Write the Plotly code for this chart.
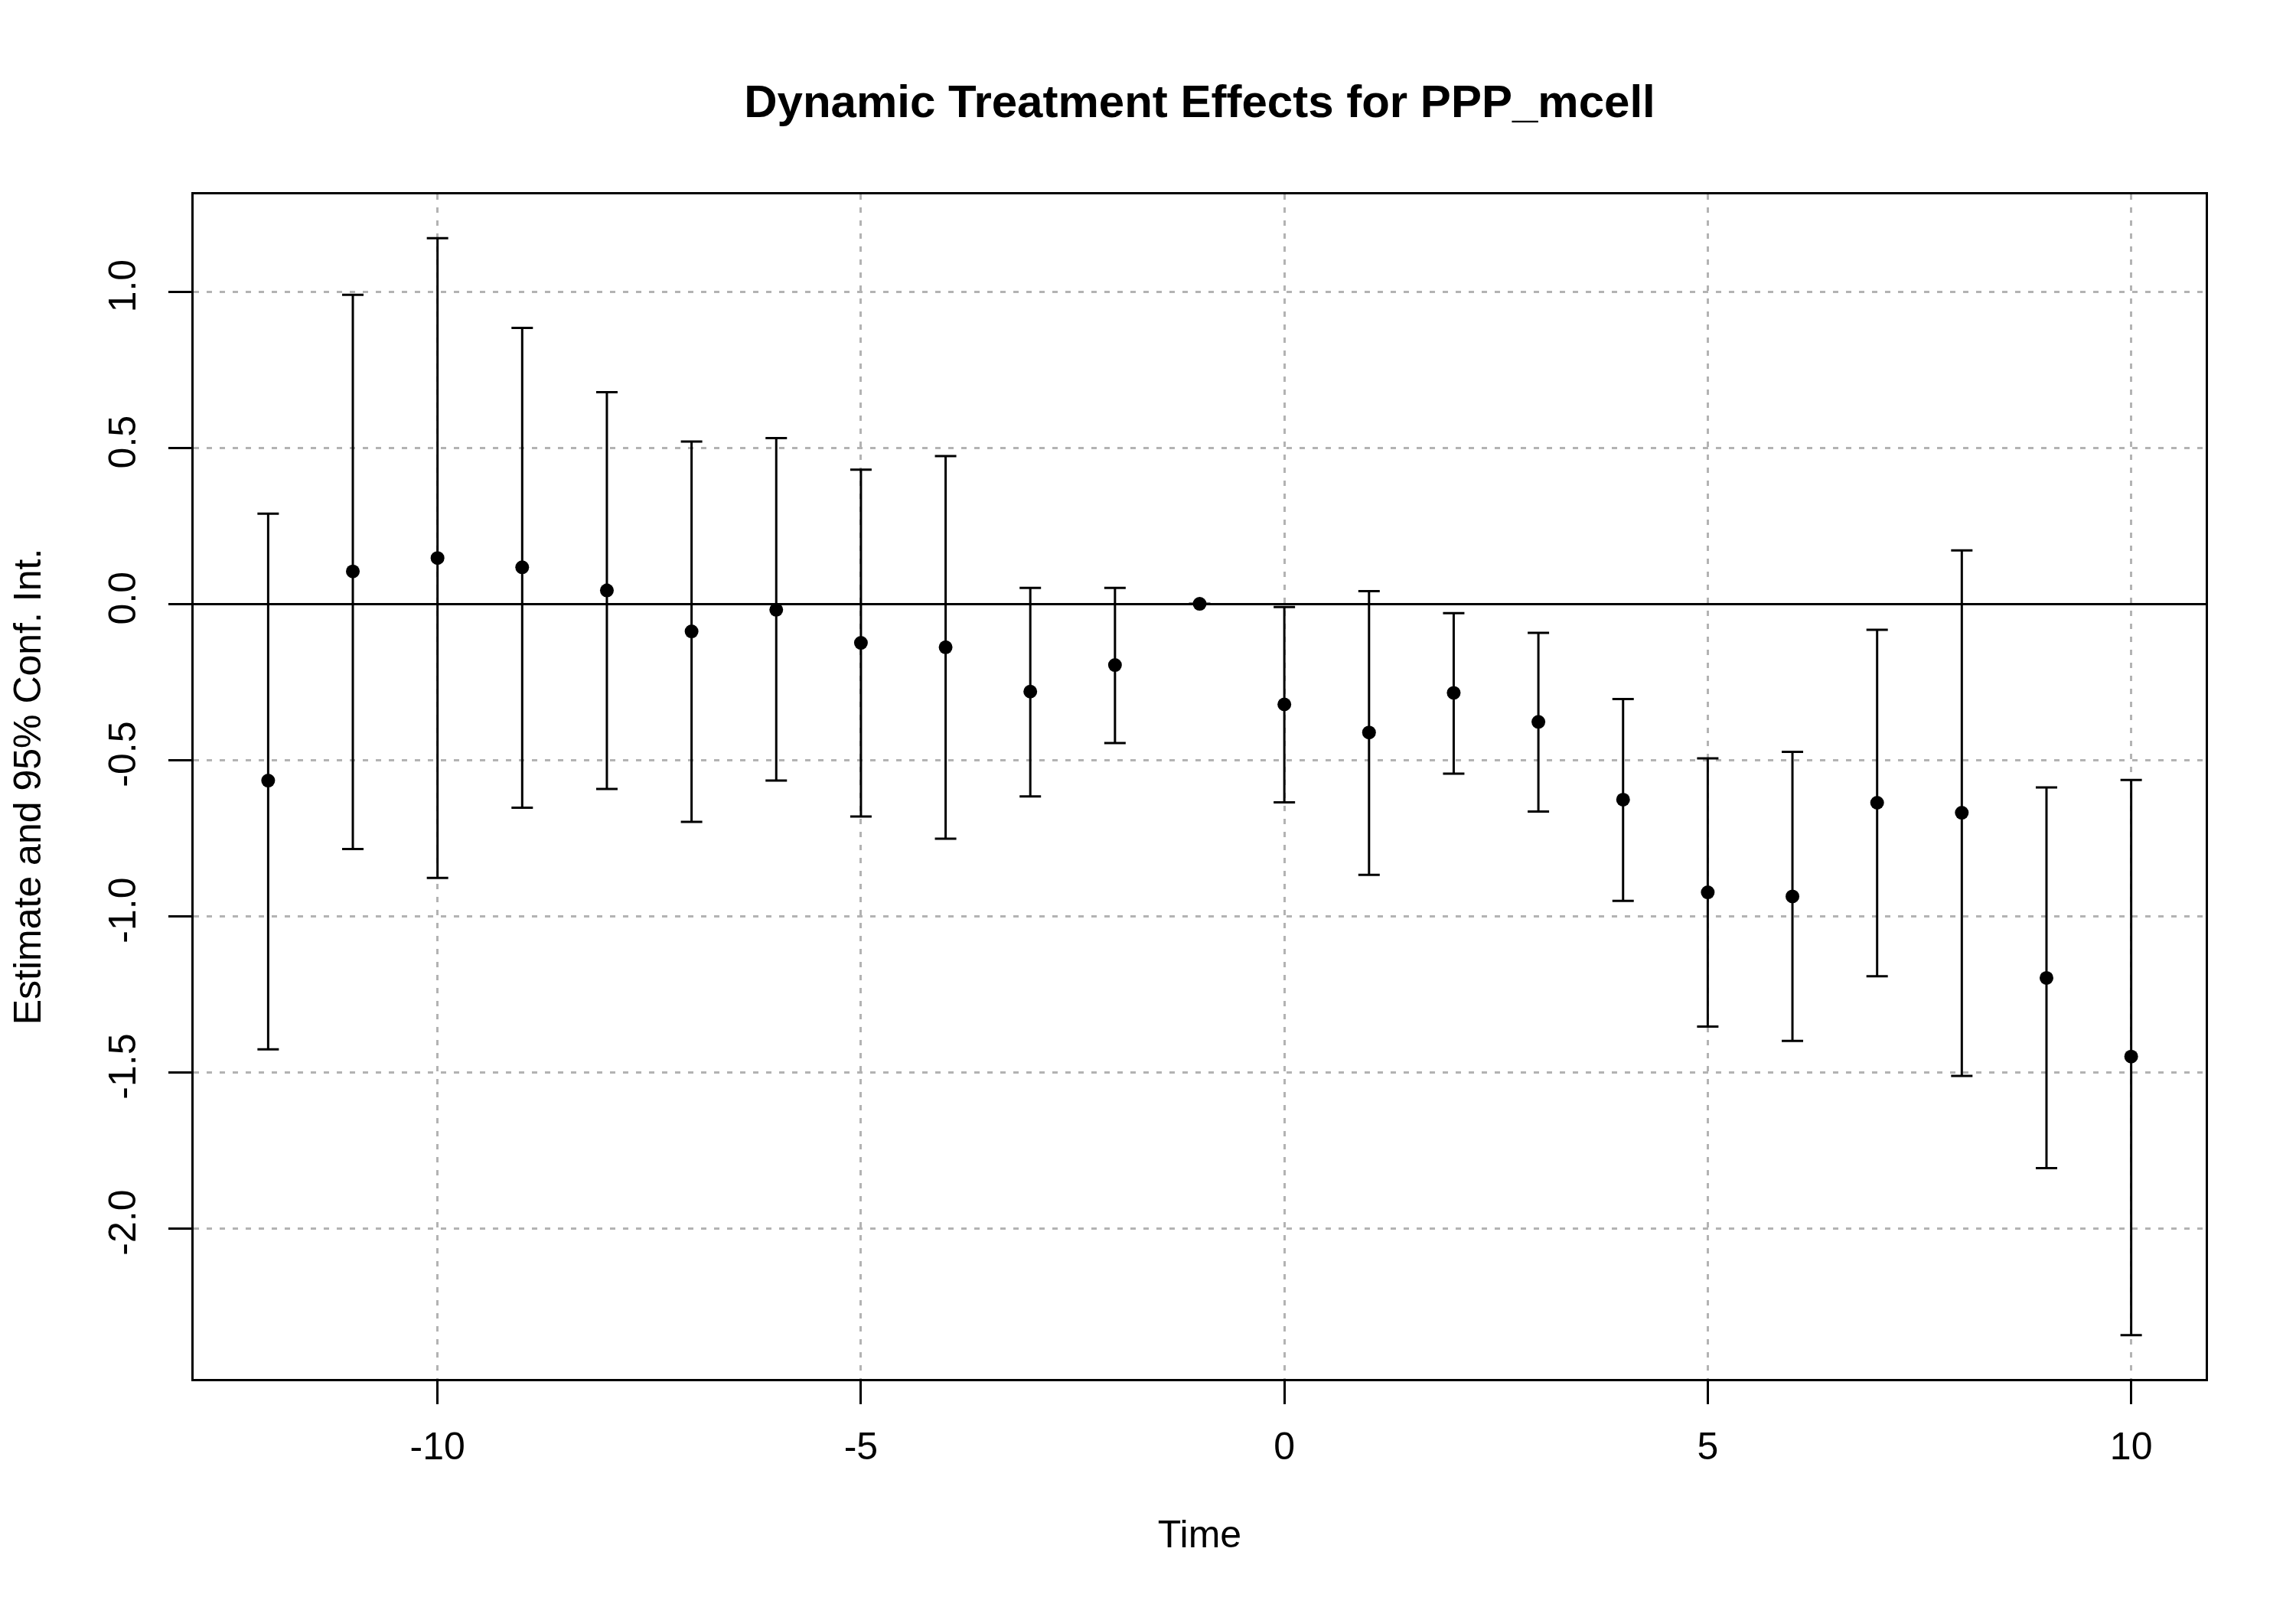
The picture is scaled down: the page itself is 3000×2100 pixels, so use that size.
import plotly.graph_objects as go

# ---- data ----
times = list(range(-12, 11))
estimate = [-0.566, 0.104, 0.147, 0.117, 0.043, -0.088, -0.019, -0.125, -0.139,
            -0.281, -0.196, 0.0, -0.322, -0.412, -0.285, -0.378, -0.627, -0.924,
            -0.937, -0.637, -0.669, -1.198, -1.450]
upper = [0.289, 0.990, 1.171, 0.884, 0.678, 0.520, 0.531, 0.430, 0.473,
         0.051, 0.051, None, -0.010, 0.041, -0.030, -0.093, -0.305, -0.495,
         -0.474, -0.083, 0.171, -0.588, -0.564]
lower = [-1.427, -0.785, -0.878, -0.653, -0.593, -0.698, -0.566, -0.681, -0.752,
         -0.617, -0.446, None, -0.636, -0.868, -0.544, -0.665, -0.951, -1.354,
         -1.400, -1.193, -1.512, -1.807, -2.342]

x_tick_vals = [-10, -5, 0, 5, 10]
x_tick_text = ["-10", "-5", "0", "5", "10"]
y_tick_vals = [-2.0, -1.5, -1.0, -0.5, 0.0, 0.5, 1.0]
y_tick_text = ["-2.0", "-1.5", "-1.0", "-0.5", "0.0", "0.5", "1.0"]

title_text = "Dynamic Treatment Effects for PPP_mcell"
x_title = "Time"
y_title = "Estimate and 95% Conf. Int."

# ---- derived ----
err_plus = [None if u is None else u - e for u, e in zip(upper, estimate)]
err_minus = [None if l is None else e - l for l, e in zip(lower, estimate)]

def r_range(vals):
    vals = [v for v in vals if v is not None]
    lo, hi = min(vals), max(vals)
    pad = 0.04 * (hi - lo)
    return [lo - pad, hi + pad]

xr = r_range(times)
yr = r_range(estimate + upper + lower)

FONT = "Liberation Sans, Arial, sans-serif"
GRID = "#b3b3b3"

fig = go.Figure()
fig.add_trace(go.Scatter(
    x=times, y=estimate, mode="markers",
    marker=dict(color="black", size=18, line=dict(width=0)),
    error_y=dict(type="data", symmetric=False, array=err_plus, arrayminus=err_minus,
                 color="black", thickness=3, width=14),
    showlegend=False,
))

fig.update_layout(
    width=3000, height=2100,
    paper_bgcolor="white", plot_bgcolor="white",
    margin=dict(l=245, r=126, t=246, b=306),
    font=dict(family=FONT, size=50, color="black"),
    title=dict(text=title_text, x=0.5, xref="paper", xanchor="center",
               y=1 - 124 / 2100, yref="container", yanchor="middle",
               font=dict(family=FONT, size=60, color="black", weight="bold")),
)
fig.update_xaxes(
    range=xr, tickvals=x_tick_vals, ticktext=x_tick_text,
    ticks="outside", ticklen=30, tickwidth=3, tickcolor="black",
    showline=True, linecolor="black", linewidth=3, mirror=True,
    showgrid=True, gridcolor=GRID, gridwidth=3, griddash="7px,10px",
    zeroline=False,
    tickfont=dict(family=FONT, size=50, color="black"),
    ticklabelstandoff=12,
    title=dict(text=x_title, font=dict(family=FONT, size=50, color="black"), standoff=70),
)
fig.update_yaxes(
    range=yr, tickvals=y_tick_vals, ticktext=y_tick_text, tickangle=-90,
    ticks="outside", ticklen=30, tickwidth=3, tickcolor="black",
    showline=True, linecolor="black", linewidth=3, mirror=True,
    showgrid=True, gridcolor=GRID, gridwidth=3, griddash="7px,10px",
    zeroline=True, zerolinecolor="black", zerolinewidth=3,
    tickfont=dict(family=FONT, size=50, color="black"),
    ticklabelstandoff=23,
    title=dict(text=y_title, font=dict(family=FONT, size=50, color="black"), standoff=65),
)

fig.write_html("out.html")
